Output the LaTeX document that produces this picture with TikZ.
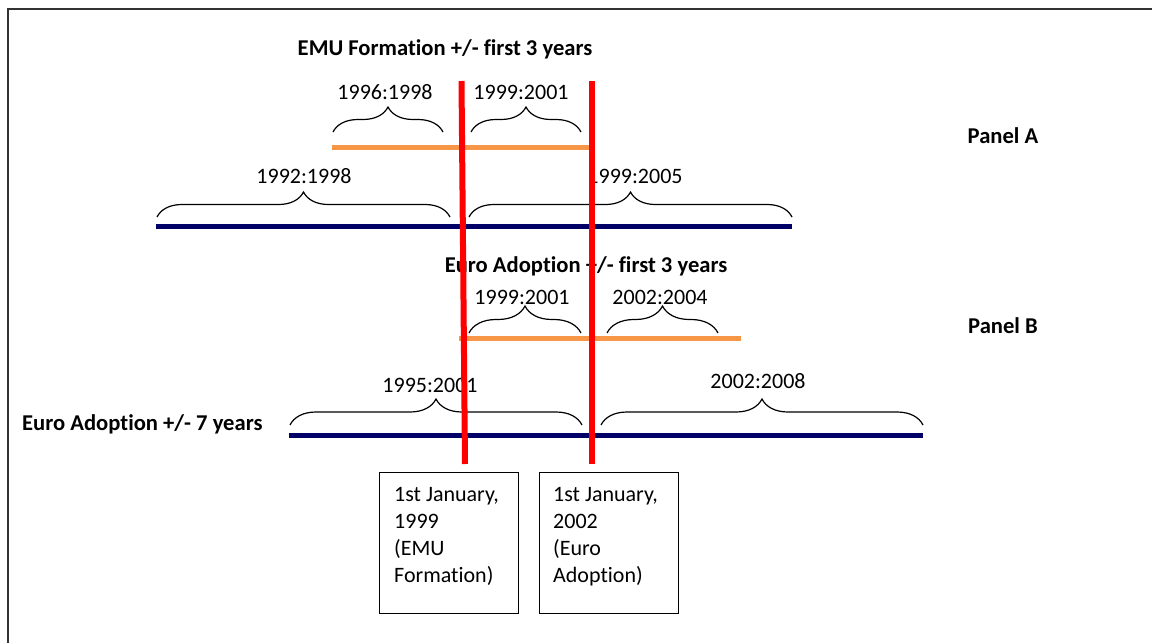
\documentclass[tikz,border=0pt]{standalone}
\usepackage{fontspec}
\setmainfont{Carlito}[Ligatures=NoCommon]
\usetikzlibrary{decorations.pathreplacing}
\definecolor{navyline}{RGB}{0,0,102}
\definecolor{orangeline}{RGB}{247,150,70}
\definecolor{redline}{RGB}{255,0,0}
\definecolor{framegray}{RGB}{50,50,50}
\begin{document}
\begin{tikzpicture}[x=1pt,y=-1pt,
  lbl/.style={font=\fontsize{22}{27}\selectfont, inner sep=0pt, anchor=base},
  hdr/.style={font=\fontsize{22.6}{27}\selectfont\bfseries, inner sep=0pt, anchor=base},
  brc/.style={decorate, decoration={brace, amplitude=#1}, line width=1.2pt, black},
  brc/.default=25pt,
  navybar/.style={navyline, line width=5pt},
  orangebar/.style={orangeline, line width=5pt},
  redbar/.style={redline, line width=6pt},
  datebox/.style={draw, line width=1.4pt, minimum width=139pt, minimum height=141pt, anchor=north west, inner sep=0pt},
  boxtext/.style={font=\fontsize{22}{27}\selectfont, align=left, inner sep=0pt, anchor=north west}]
\useasboundingbox (0,0) rectangle (1152,643);
% frame
\draw[framegray, line width=2.2pt] (8,643) -- (8,9) -- (1152,9);

% headers
\node[hdr] (hA) at (445,55) {EMU Formation +/- first 3 years};
\node[hdr] (hB) at (586,272) {Euro Adoption +/- first 3 years};
\node[hdr] (pA) at (1003,143) {Panel A};
\node[hdr] (pB) at (1003,333) {Panel B};
\node[hdr, anchor=base west] (h7) at (22,430) {Euro Adoption +/- 7 years};

% timeline coordinates
\coordinate (oA1) at (332,147); \coordinate (oA2) at (590,147);
\coordinate (nA1) at (156,226); \coordinate (nA2) at (792,226);
\coordinate (oB1) at (459,338); \coordinate (oB2) at (741,338);
\coordinate (nB1) at (289,435); \coordinate (nB2) at (923,435);

\draw[orangebar] (oA1) -- (oA2);
\draw[navybar] (nA1) -- (nA2);
\draw[orangebar] (oB1) -- (oB2);
\draw[navybar] (nB1) -- (nB2);

% braces Panel A orange
\coordinate (bA1s) at (333,132); \coordinate (bA1e) at (443,132);
\coordinate (bA2s) at (471,132); \coordinate (bA2e) at (581,132);
\draw[brc] (bA1s) -- (bA1e);
\draw[brc] (bA2s) -- (bA2e);
\node[lbl] (l1) at (385,99) {1996:1998};
\node[lbl] (l2) at (521,99) {1999:2001};

% braces Panel A navy
\coordinate (bA3s) at (157,217); \coordinate (bA3e) at (450,217);
\coordinate (bA4s) at (469,217); \coordinate (bA4e) at (792,217);
\draw[brc] (bA3s) -- (bA3e);
\draw[brc] (bA4s) -- (bA4e);
\node[lbl] (l3) at (304,183) {1992:1998};
\node[lbl] (l4) at (635,183) {1999:2005};

% braces Panel B orange
\coordinate (bB1s) at (469,333); \coordinate (bB1e) at (581,333);
\coordinate (bB2s) at (607,333); \coordinate (bB2e) at (718,333);
\draw[brc=27pt] (bB1s) -- (bB1e);
\draw[brc=27pt] (bB2s) -- (bB2e);
\node[lbl] (l5) at (522,304) {1999:2001};
\node[lbl] (l6) at (660,304) {2002:2004};

% braces Panel B navy
\coordinate (bB3s) at (290,425); \coordinate (bB3e) at (582,425);
\coordinate (bB4s) at (601,425); \coordinate (bB4e) at (923,425);
\draw[brc=26pt] (bB3s) -- (bB3e);
\draw[brc=26pt] (bB4s) -- (bB4e);
\node[lbl] (l7) at (430,392) {1995:2001};
\node[lbl] (l8) at (758,388) {2002:2008};

% date boxes
\node[datebox] (box1) at (379,472) {};
\node[datebox] (box2) at (539,472) {};
\node[boxtext] (t1) at (394,487) {1st January,\\1999\\(EMU\\Formation)};
\node[boxtext] (t2) at (553,487) {1st January,\\2002\\(Euro\\Adoption)};

% red event lines
\coordinate (emuTop) at (461.5,81); \coordinate (emuBot) at (465,464);
\coordinate (euroTop) at (592,81); \coordinate (euroBot) at (592,464);
\draw[redbar] (emuTop) -- (emuBot);
\draw[redbar] (euroTop) -- (euroBot);
\end{tikzpicture}
\end{document}
